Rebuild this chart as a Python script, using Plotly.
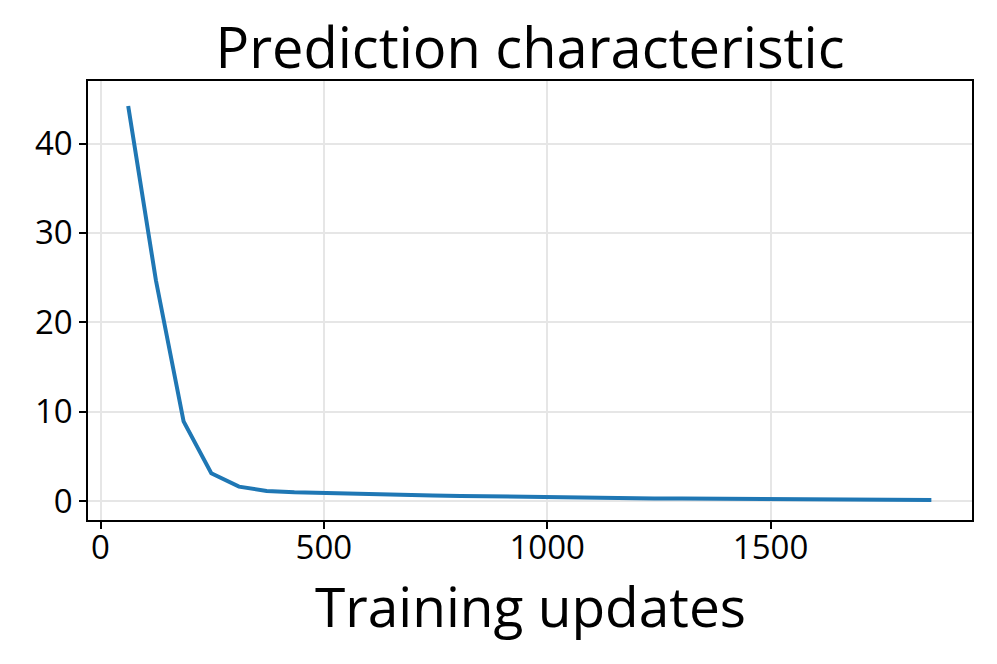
import plotly.graph_objects as go

updates = [62, 124, 186, 248, 310, 372, 434, 496, 558, 620, 682, 744, 806, 868, 930,
           992, 1054, 1116, 1178, 1240, 1302, 1364, 1426, 1488, 1550, 1612, 1674, 1736, 1798, 1860]
mean_vals = [44.2, 24.7, 8.9, 3.1, 1.6, 1.12, 0.97, 0.88, 0.8, 0.74, 0.68, 0.62, 0.56, 0.51, 0.46,
             0.42, 0.38, 0.35, 0.32, 0.29, 0.27, 0.25, 0.23, 0.21, 0.19, 0.17, 0.15, 0.13, 0.12, 0.1]
spread = [0.2, 0.2, 0.45, 0.2, 0.1, 0.08, 0.06, 0.05, 0.05, 0.05, 0.04, 0.04, 0.04, 0.04, 0.04,
          0.04, 0.04, 0.04, 0.04, 0.04, 0.04, 0.04, 0.04, 0.04, 0.04, 0.04, 0.04, 0.04, 0.04, 0.04]
x_ticks = [0, 500, 1000, 1500]
y_ticks = [0, 10, 20, 30, 40]

upper = [m + s for m, s in zip(mean_vals, spread)]
lower = [m - s for m, s in zip(mean_vals, spread)]

FONT = "Open Sans"
W, H = 989, 656
fig = go.Figure()
fig.add_trace(go.Scatter(x=updates, y=upper, mode="lines", line=dict(width=0),
                         showlegend=False, hoverinfo="skip"))
fig.add_trace(go.Scatter(x=updates, y=lower, mode="lines", line=dict(width=0),
                         fill="tonexty", fillcolor="rgba(31,119,180,0.25)",
                         showlegend=False, hoverinfo="skip"))
fig.add_trace(go.Scatter(x=updates, y=mean_vals, mode="lines",
                         line=dict(color="#1f77b4", width=4), showlegend=False))

axis_common = dict(showline=True, linecolor="black", linewidth=1.5, mirror=True,
                   ticks="outside", ticklen=7, tickwidth=1.5, tickcolor="black",
                   showgrid=True, gridcolor="#e6e6e6", gridwidth=1.5, zeroline=False,
                   automargin=False,
                   tickfont=dict(family=FONT, size=33, color="black"))

fig.update_layout(
    width=W, height=H,
    margin=dict(l=80, r=25, t=73, b=144),
    paper_bgcolor="white", plot_bgcolor="white",
    title=dict(text="Prediction characteristic", x=0.5, xref="paper", xanchor="center",
               y=1 - 40 / H, yref="container", yanchor="middle",
               font=dict(family=FONT, size=56, color="black")),
    xaxis=dict(range=[-28, 1951], tickvals=x_ticks, ticklabelstandoff=-9,
               **axis_common),
    yaxis=dict(range=[-2.13, 47.0], tickvals=y_ticks, **axis_common),
    annotations=[dict(text="Training updates", xref="paper", yref="paper", x=0.5, y=0,
                      xanchor="center", yanchor="middle", yshift=-85, showarrow=False,
                      font=dict(family=FONT, size=55, color="black"))],
)

fig.write_html("out.html")
